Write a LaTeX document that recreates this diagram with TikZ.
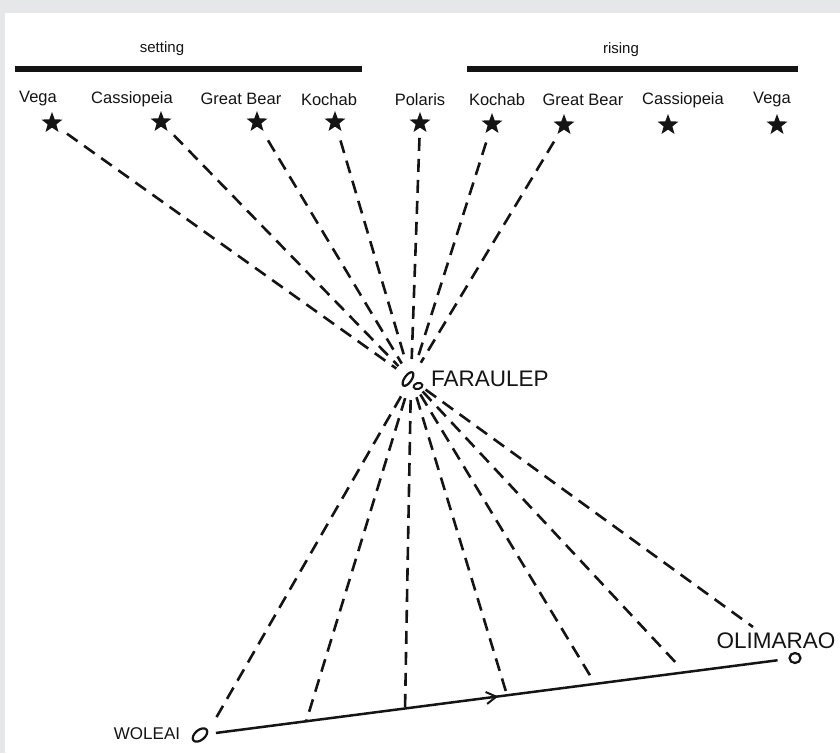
\documentclass[tikz,border=0pt]{standalone}
\usepackage{fontspec}
\setmainfont{Liberation Sans}
\usetikzlibrary{arrows.meta,shapes.geometric,decorations.markings}
\definecolor{framegray}{HTML}{E6E7E9}
\definecolor{ink}{HTML}{141414}
\begin{document}
\begin{tikzpicture}[x=1pt,y=-1pt,
  starmark/.style={star,star points=5,star point ratio=2.4,fill=ink,draw=none,minimum size=22pt,inner sep=0pt},
  starname/.style={font=\fontsize{16.5}{16.5}\selectfont,text=ink,inner sep=0pt},
  sight/.style={ink,line width=2.6pt,dash pattern=on 13pt off 8pt},
  place/.style={font=\fontsize{22.5}{22.5}\selectfont,text=ink,inner sep=0pt},
  isle/.style={draw=ink,line width=2.2pt,ellipse,inner sep=0pt}]
\fill[framegray] (0,0) rectangle (840,753);
\fill[white] (5,13) rectangle (840,753);
\draw[ink,line width=6pt] (15,69)--(362,69);
\draw[ink,line width=6pt] (467,69)--(798,69);
\node[starname,font=\fontsize{15}{15}\selectfont] (setting) at (162,49) {setting};
\node[starname,font=\fontsize{15}{15}\selectfont] (rising) at (621,50) {rising};
\node[starname] (vegaSt) at (38,99) {Vega};
\node[starname] (cassSt) at (132,99) {Cassiopeia};
\node[starname] (bearSt) at (241,99) {Great Bear};
\node[starname] (kochSt) at (329,100) {Kochab};
\node[starname] (polT) at (420,100) {Polaris};
\node[starname] (kochRt) at (497,100) {Kochab};
\node[starname] (bearRt) at (583,100) {Great Bear};
\node[starname] (cassRt) at (683,100) {Cassiopeia};
\node[starname] (vegaRt) at (772,100) {Vega};
\node[starmark] (vegaS) at (52,123) {};
\node[starmark] (cassS) at (161,122) {};
\node[starmark] (bearS) at (257,122) {};
\node[starmark] (kochS) at (335,122) {};
\node[starmark] (pol) at (420,123) {};
\node[starmark] (kochR) at (492,124) {};
\node[starmark] (bearR) at (564,125) {};
\node[starmark] (cassR) at (668,125) {};
\node[starmark] (vegaR) at (777,125) {};
\coordinate (fc) at (411,379);
\node[isle,minimum width=16pt,minimum height=7pt,rotate=55] (far) at (408,379) {};
\node[isle,line width=2pt,minimum width=9pt,minimum height=6pt,rotate=15] (farb) at (418,386) {};
\node[place,anchor=west] (faraulep) at (431,379) {FARAULEP};
\node[isle,minimum width=17pt,minimum height=10pt,rotate=40] (woleai) at (200,735) {};
\node[place,font=\fontsize{17}{17}\selectfont] (woleaiT) at (147,734) {WOLEAI};
\node[isle,minimum width=11pt,minimum height=10pt] (olimarao) at (795,658) {};
\node[place] (olimaraoT) at (776,641) {OLIMARAO};
\coordinate (q1) at (216,718);
\coordinate (q2) at (306,722);
\coordinate (q3) at (405,710);
\coordinate (q4) at (507,695);
\coordinate (q5) at (594,682);
\coordinate (q6) at (678,665);
\coordinate (q7) at (753,627);
\draw[sight,shorten <=12pt,shorten >=18pt] (vegaS)--(fc);
\draw[sight,shorten <=10pt,shorten >=18pt] (cassS)--(fc);
\draw[sight,shorten <=12pt,shorten >=18pt] (bearS)--(fc);
\draw[sight,shorten <=13pt,shorten >=18pt] (kochS)--(fc);
\draw[sight,shorten <=10pt,shorten >=20pt] (pol)--(fc);
\draw[sight,shorten <=13pt,shorten >=19pt] (kochR)--(fc);
\draw[sight,shorten <=10pt,shorten >=19pt] (bearR)--(fc);
\draw[sight,shorten <=20pt] (fc)--(q1);
\draw[sight,shorten <=20pt] (fc)--(q2);
\draw[sight,shorten <=21pt] (fc)--(q3);
\draw[sight,shorten <=19pt] (fc)--(q4);
\draw[sight,shorten <=18pt] (fc)--(q5);
\draw[sight,shorten <=17pt] (fc)--(q6);
\draw[sight,shorten <=18pt] (fc)--(q7);
\draw[ink,line width=2.5pt,shorten <=8pt,shorten >=11pt,postaction={decorate},
  decoration={markings,mark=at position 0.5 with {\arrow{Straight Barb[length=10pt,width=12pt,line width=2pt]}}}]
  (woleai)--(olimarao);
\end{tikzpicture}
\end{document}
